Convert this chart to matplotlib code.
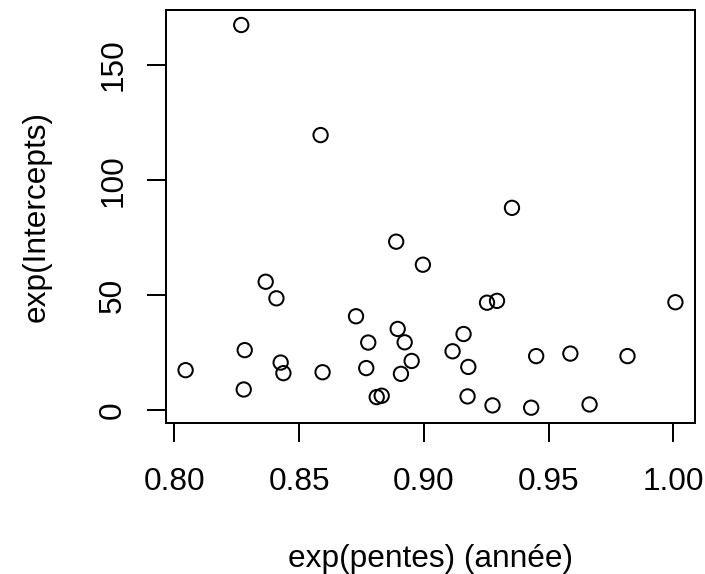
import matplotlib
matplotlib.use("Agg")
import matplotlib.pyplot as plt
import numpy as np

plt.rcParams['font.family'] = ['Liberation Sans', 'DejaVu Sans']

pentes = [0.8268, 0.8586, 0.9353, 0.8889, 0.8996, 0.8366, 0.8409, 0.8728, 0.8895,
          0.8923, 0.8777, 0.8282, 0.8951, 0.8426, 0.8045, 0.8437, 0.8594, 0.8769,
          0.8908, 0.8278, 0.8811, 0.8831, 0.9253, 0.9293, 1.0008, 0.9159, 0.9115,
          0.9178, 0.9450, 0.9587, 0.9816, 0.9175, 0.9275, 0.9430, 0.9664]
intercepts = [167.4, 119.6, 88.0, 73.3, 63.3, 55.9, 48.7, 40.9, 35.4,
              29.6, 29.5, 26.2, 21.5, 20.8, 17.5, 16.2, 16.6, 18.4,
              15.9, 9.1, 5.8, 6.4, 46.8, 47.6, 47.0, 33.2, 25.7,
              18.9, 23.6, 24.7, 23.6, 6.1, 2.2, 1.2, 2.6]
xticks = [0.80, 0.85, 0.90, 0.95, 1.00]
xticklabels = ["0.80", "0.85", "0.90", "0.95", "1.00"]
yticks = [0, 50, 100, 150]
yticklabels = ["0", "50", "100", "150"]
xlabel = "exp(pentes) (année)"
ylabel = "exp(Intercepts)"

W, H = 705, 574
FS = 22.8
LINE = 38.0  # px per R margin line
fig = plt.figure(figsize=(W / 100, H / 100), dpi=100)
L, R, T, B = 166, 695, 9.7, 423
ax = fig.add_axes([L / W, 1 - B / H, (R - L) / W, (B - T) / H])

ax.scatter(pentes, intercepts, s=10.3 ** 2, facecolors='none', edgecolors='black',
           linewidths=1.44, zorder=3)

def rlim(v):
    lo, hi = min(v), max(v)
    d = (hi - lo) * 0.04
    return lo - d, hi + d

ax.set_xlim(*rlim(pentes))
ax.set_ylim(*rlim(intercepts))

ax.set_xticks(xticks)
ax.set_xticklabels(xticklabels)
ax.set_yticks(yticks)
ax.set_yticklabels(yticklabels)

for s in ax.spines.values():
    s.set_linewidth(1.44)
ax.tick_params(axis='both', direction='out', length=13.7, width=1.44, labelsize=FS)
ax.tick_params(axis='x', pad=18.0)
ax.tick_params(axis='y', pad=13.5, labelrotation=90)
for lab in ax.get_yticklabels():
    lab.set_va('center')
    lab.set_ha('right')

fig.text((L - 3.2 * LINE) / W, 1 - ((T + B) / 2) / H, ylabel, rotation=90,
         rotation_mode='anchor', ha='center', va='baseline', fontsize=FS)
fig.text(((L + R) / 2) / W, 1 - (B + 3.8 * LINE) / H, xlabel, ha='center',
         va='baseline', fontsize=FS)

fig.savefig("out.png", dpi=100)
